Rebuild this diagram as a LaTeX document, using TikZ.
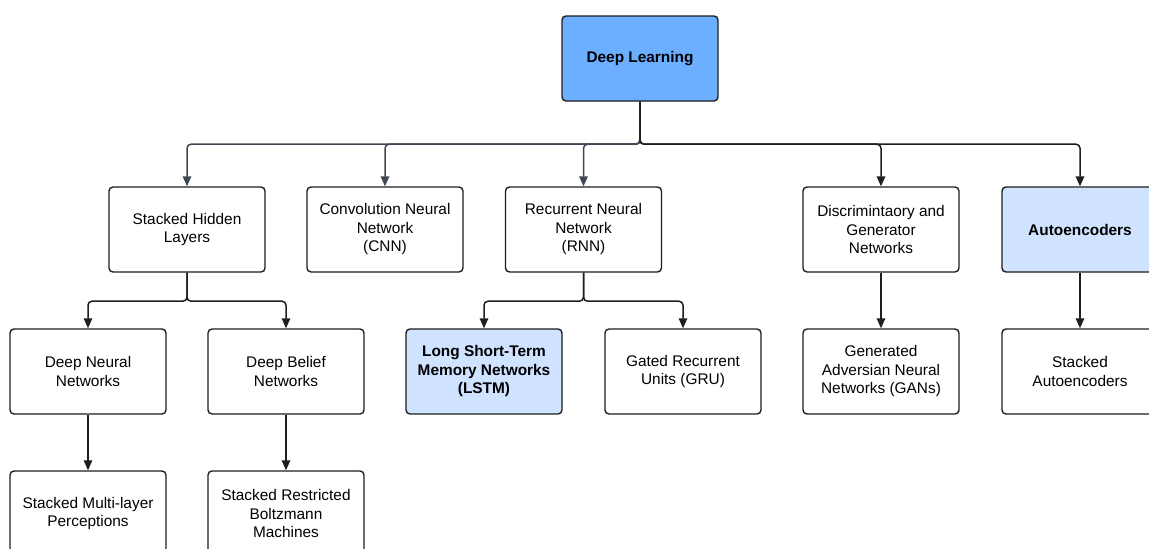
\documentclass[tikz,border=0pt]{standalone}
\usepackage{fontspec}
\setmainfont{Liberation Sans}
\usetikzlibrary{arrows.meta}
\definecolor{dlblue}{RGB}{108,174,255}
\definecolor{paleblue}{RGB}{207,226,255}
\definecolor{edgedark}{RGB}{30,30,30}
\definecolor{linkgray}{RGB}{64,71,82}
\tikzset{
  box/.style={draw=edgedark, line width=1.4pt, rounded corners=4pt, fill=white,
    minimum width=156pt, minimum height=85pt, inner sep=2pt, align=center,
    font=\fontsize{15.4pt}{18.5pt}\selectfont},
  hot/.style={fill=dlblue, font=\fontsize{15.4pt}{18.5pt}\selectfont\bfseries},
  soft/.style={fill=paleblue, font=\fontsize{15.4pt}{18.5pt}\selectfont\bfseries},
  link/.style={line width=1.5pt, draw=edgedark, rounded corners=4pt,
    -{Triangle[length=10pt,width=8.5pt]}},
  greylink/.style={link, draw=linkgray, -{Triangle[length=10pt,width=8.5pt,fill=linkgray]}}
}
\begin{document}
\begin{tikzpicture}[x=1pt,y=-1pt]
\useasboundingbox (0,0) rectangle (1149,549);

% top node
\node[box,hot] (dl) at (640,58.5) {Deep Learning};

% first level
\node[box] (shl) at (187,229.5) {Stacked Hidden\\Layers};
\node[box] (cnn) at (385,229.5) {Convolution Neural\\Network\\(CNN)};
\node[box] (rnn) at (583.5,229.5) {Recurrent Neural\\Network\\(RNN)};
\node[box] (dgn) at (881,229.5) {Discrimintaory and\\Generator\\Networks};
\node[box,soft] (ae) at (1080,229.5) {Autoencoders};

% second level
\node[box] (dnn) at (88,371.5) {Deep Neural\\Networks};
\node[box] (dbn) at (286,371.5) {Deep Belief\\Networks};
\node[box,soft] (lstm) at (484,371.5) {Long Short-Term\\Memory Networks\\(LSTM)};
\node[box] (gru) at (683,371.5) {Gated Recurrent\\Units (GRU)};
\node[box] (gan) at (881,371.5) {Generated\\Adversian Neural\\Networks (GANs)};
\node[box] (sae) at (1080,371.5) {Stacked\\Autoencoders};

% third level
\node[box] (smlp) at (88,513.5) {Stacked Multi-layer\\Perceptions};
\node[box] (srbm) at (286,513.5) {Stacked Restricted\\Boltzmann\\Machines};

% bus from the root
\draw[greylink] (dl.south) -- ++(0,42.5) -| (shl.north);
\draw[greylink] (dl.south) -- ++(0,42.5) -| (cnn.north);
\draw[greylink] (dl.south) -- ++(0,42.5) -| (rnn.north);
\draw[link] (dl.south) -- ++(0,42.5) -| (dgn.north);
\draw[link] (dl.south) -- ++(0,42.5) -| (ae.north);

% stacked hidden layers
\draw[link] (shl.south) -- ++(0,28.5) -| (dnn.north);
\draw[link] (shl.south) -- ++(0,28.5) -| (dbn.north);

% recurrent
\draw[link] (rnn.south) -- ++(0,28.5) -| (lstm.north);
\draw[link] (rnn.south) -- ++(0,28.5) -| (gru.north);

% single children
\draw[link] (dgn.south) -- (gan.north);
\draw[link] (ae.south) -- (sae.north);
\draw[link] (dnn.south) -- (smlp.north);
\draw[link] (dbn.south) -- (srbm.north);
\end{tikzpicture}
\end{document}
